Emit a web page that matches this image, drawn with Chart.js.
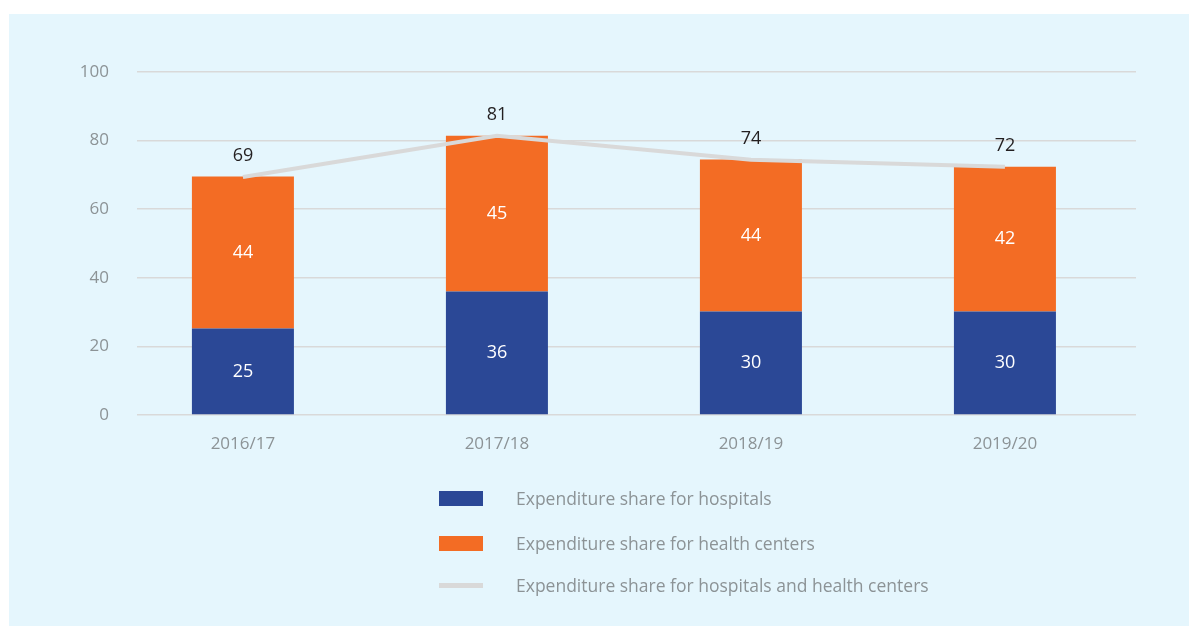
<!DOCTYPE html>
<html>
<head>
<meta charset="utf-8">
<script src="https://cdn.jsdelivr.net/npm/chart.js@4"></script>
<style>
  body { margin: 0; background: #fff; font-family: "Open Sans", sans-serif; }
  #panel { position: absolute; left: 9px; top: 14px; width: 1180px; height: 612px; background: #e5f6fd; }
  #chart { position: absolute; left: 0; top: 0; }
  #legend { position: absolute; left: 430px; top: 473px; }
  .item { display: flex; align-items: center; height: 22px; color: #8c9396; font-size: 17.5px; }
  .swatch { width: 44px; margin-right: 33px; }
</style>
</head>
<body>
<div id="panel">
  <canvas id="chart" width="1180" height="612"></canvas>
  <div id="legend"></div>
</div>
<script>
// Data (labels are rounded)
const years = ['2016/17', '2017/18', '2018/19', '2019/20'];
const hospitals = [25.2, 36.0, 30.2, 30.2];
const healthCenters = [44.3, 45.4, 44.3, 42.2];
const combined = [69.4, 81.4, 74.4, 72.4];
const yTicks = [0, 20, 40, 60, 80, 100];

const BLUE = '#2b4896';
const ORANGE = '#f36c24';
const GREY_LINE = '#d9d9d9';
const TEXT = '#8c9396';

const toPoints = arr => arr.map((v, i) => ({ x: i, y: v }));

// Labels on bars and above line points
const valueLabels = {
    id: 'valueLabels',
    afterDatasetsDraw(chart) {
        const ctx = chart.ctx;
        ctx.save();
        ctx.font = '18px "Open Sans"';
        ctx.textAlign = 'center';
        ctx.textBaseline = 'middle';
        chart.data.datasets.forEach((ds, i) => {
            const meta = chart.getDatasetMeta(i);
            meta.data.forEach((el, j) => {
                const v = Math.round(ds.data[j].y);
                if (ds.type === 'line') {
                    ctx.fillStyle = '#231f20';
                    ctx.fillText(v, el.x, el.y - 21);
                } else {
                    ctx.fillStyle = '#ffffff';
                    ctx.fillText(v, el.x, (el.y + el.base) / 2);
                }
            });
        });
        ctx.restore();
    }
};

const ctx = document.getElementById('chart').getContext('2d');
const chart = new Chart(ctx, {
    data: {
        datasets: [
            {
                type: 'bar',
                label: 'Expenditure share for hospitals',
                data: toPoints(hospitals),
                backgroundColor: BLUE,
                stack: 'share',
                order: 1,
                barPercentage: 0.4016,
                categoryPercentage: 1
            },
            {
                type: 'bar',
                label: 'Expenditure share for health centers',
                data: toPoints(healthCenters),
                backgroundColor: ORANGE,
                stack: 'share',
                order: 1,
                barPercentage: 0.4016,
                categoryPercentage: 1
            },
            {
                type: 'line',
                label: 'Expenditure share for hospitals and health centers',
                data: toPoints(combined),
                borderColor: GREY_LINE,
                borderWidth: 4,
                pointRadius: 0,
                tension: 0,
                stack: 'total',
                order: 0
            }
        ]
    },
    options: {
        responsive: false,
        animation: false,
        layout: { padding: { top: 58, right: 53, left: 0, bottom: 0 } },
        plugins: {
            legend: { display: false },
            tooltip: { enabled: false }
        },
        scales: {
            x: {
                type: 'linear',
                stacked: true,
                offset: false,
                min: -0.417,
                max: 3.516,
                afterBuildTicks(scale) { scale.ticks = years.map((y, i) => ({ value: i })); },
                grid: { display: false },
                border: { display: false },
                ticks: {
                    color: TEXT,
                    font: { family: 'Open Sans', size: 17 },
                    padding: 11,
                    callback: v => years[v]
                },
                afterFit(scale) { scale.height = 211; }
            },
            y: {
                stacked: true,
                min: 0,
                max: 100,
                afterBuildTicks(scale) { scale.ticks = yTicks.map(v => ({ value: v })); },
                grid: { color: GREY_LINE, lineWidth: 1.5, drawTicks: false },
                border: { display: false },
                ticks: { color: TEXT, font: { family: 'Open Sans', size: 17 }, padding: 28 },
                afterFit(scale) { scale.width = 128; }
            }
        }
    },
    plugins: [valueLabels]
});

// HTML legend built from the datasets
const legendEl = document.getElementById('legend');
const rowGaps = [23, 20, 0];
chart.data.datasets.forEach((ds, i) => {
    const item = document.createElement('div');
    item.className = 'item';
    item.style.marginBottom = rowGaps[i] + 'px';
    const sw = document.createElement('div');
    sw.className = 'swatch';
    if (ds.type === 'line') {
        sw.style.height = '5px';
        sw.style.background = ds.borderColor;
    } else {
        sw.style.height = '15px';
        sw.style.background = ds.backgroundColor;
    }
    const txt = document.createElement('span');
    txt.textContent = ds.label;
    item.appendChild(sw);
    item.appendChild(txt);
    legendEl.appendChild(item);
});
</script>
</body>
</html>
